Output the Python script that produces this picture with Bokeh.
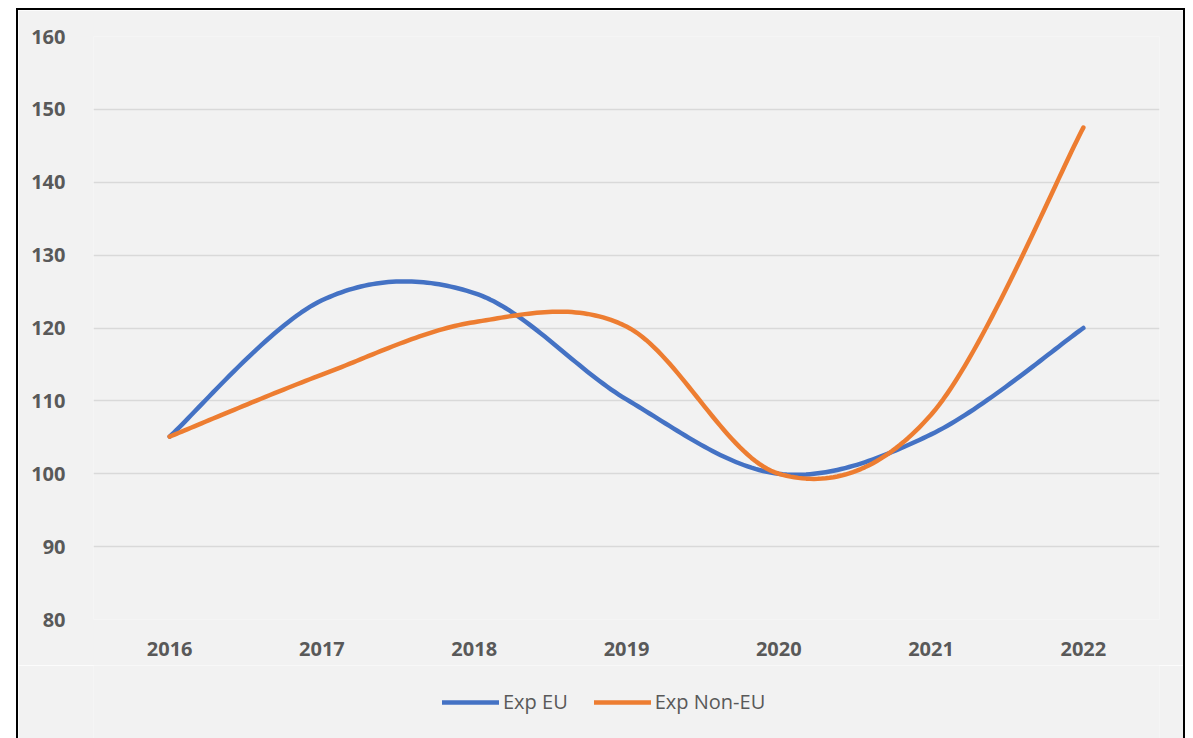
import numpy as np
from bokeh.plotting import figure
from bokeh.layouts import row, column
from bokeh.models import FixedTicker, Legend, LegendItem, Range1d, Spacer
from bokeh.embed import file_html
from bokeh.resources import INLINE

years = ["2016", "2017", "2018", "2019", "2020", "2021", "2022"]
exp_eu = [105.1, 123.8, 124.8, 110.2, 100.0, 105.4, 120.0]
exp_non_eu = [105.1, 113.6, 120.8, 120.2, 100.0, 108.1, 147.5]
series_names = ["Exp EU", "Exp Non-EU"]
y_ticks = [80, 90, 100, 110, 120, 130, 140, 150, 160]


def smooth(vals, n=40):
    """Excel-like smoothed line (Catmull-Rom style cubic Bezier through the data points)."""
    x = np.arange(len(vals), dtype=float)
    y = np.asarray(vals, dtype=float)
    pts = np.column_stack([x, y])
    out = []
    t = np.linspace(0, 1, n)[:, None]
    for i in range(len(y) - 1):
        i0 = max(i - 1, 0)
        i3 = min(i + 2, len(y) - 1)
        p0, p3 = pts[i], pts[i + 1]
        c1 = p0 + (pts[i + 1] - pts[i0]) / 6.0
        c2 = p3 - (pts[i3] - pts[i]) / 6.0
        seg = (1 - t) ** 3 * p0 + 3 * (1 - t) ** 2 * t * c1 + 3 * (1 - t) * t ** 2 * c2 + t ** 3 * p3
        out.append(seg if i == 0 else seg[1:])
    out = np.vstack(out)
    return out[:, 0], out[:, 1]


FONT = "Open Sans"
GREY = "#595959"
BG = "#F2F2F2"
COLORS = ["#4472C4", "#ED7D31"]
BORDER = "2px solid black"
FW = 1062

p = figure(frame_width=FW, frame_height=581, output_backend="svg", toolbar_location=None,
           x_range=Range1d(-0.5, len(years) - 0.5), y_range=Range1d(80, 160),
           min_border_left=75, min_border_right=28, min_border_top=26, min_border_bottom=48)
p.background_fill_color = BG
p.border_fill_color = BG
p.outline_line_color = None
p.styles = {"border-top": BORDER, "border-left": BORDER, "border-right": BORDER}

p.xaxis.ticker = FixedTicker(ticks=list(range(len(years))))
p.xaxis.major_label_overrides = {i: y for i, y in enumerate(years)}
p.yaxis.ticker = FixedTicker(ticks=y_ticks)

for ax in (p.xaxis[0], p.yaxis[0]):
    ax.axis_line_color = None
    ax.major_tick_line_color = None
    ax.minor_tick_line_color = None
    ax.major_label_text_font = FONT
    ax.major_label_text_font_style = "bold"
    ax.major_label_text_font_size = "20px"
    ax.major_label_text_color = GREY
p.yaxis.major_label_standoff = 22
p.xaxis.major_label_standoff = 16

p.xgrid.grid_line_color = None
p.ygrid.grid_line_color = "#D9D9D9"
p.ygrid.grid_line_width = 1.6
p.ygrid.ticker = FixedTicker(ticks=y_ticks)

curves = []
for vals, col in zip([exp_eu, exp_non_eu], COLORS):
    xs, ys = smooth(vals)
    curves.append((xs, ys))
    p.line(xs, ys, line_color=col, line_width=4.5, line_cap="round", line_join="round")

# legend strip below the x axis (own small figure, frames aligned with the main plot)
lf = figure(frame_width=FW, frame_height=74, output_backend="svg", toolbar_location=None,
            x_range=Range1d(-0.5, len(years) - 0.5), y_range=Range1d(0, 1),
            x_axis_location=None, y_axis_location=None,
            min_border_left=75, min_border_right=28, min_border_top=0, min_border_bottom=0)
lf.background_fill_color = BG
lf.border_fill_color = BG
lf.outline_line_color = None
lf.grid.visible = False
lf.styles = {"border-left": BORDER, "border-right": BORDER, "border-bottom": BORDER}
items = []
for name, col, (xs, ys) in zip(series_names, COLORS, curves):
    # same series data; it lies outside this strip's y range, so only the legend sample shows
    r = lf.line(xs, ys, line_color=col, line_width=4.5, line_cap="round")
    items.append(LegendItem(label=name, renderers=[r]))
legend = Legend(items=items, orientation="horizontal", location=(349, 26))
legend.label_text_font = FONT
legend.label_text_font_size = "20px"
legend.label_text_color = GREY
legend.glyph_width = 57
legend.glyph_height = 24
legend.label_standoff = 4
legend.spacing = 26
legend.border_line_color = None
legend.background_fill_alpha = 0
legend.margin = 0
legend.padding = 0
lf.add_layout(legend, "center")

layout = column(Spacer(height=8), row(Spacer(width=16), column(p, lf, spacing=0)), spacing=0)

open("out.html", "w").write(file_html(layout, INLINE))
